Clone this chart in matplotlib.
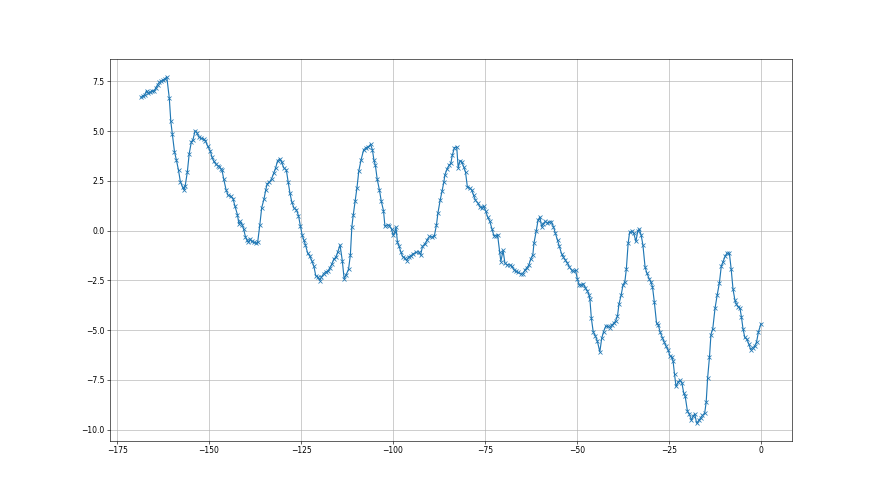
import numpy as np
import matplotlib
matplotlib.use('Agg')
import matplotlib.pyplot as plt

# values
x_days = [
    -168.5, -168.0, -167.5, -167.0, -166.5, -166.0, -165.5, -165.0, -164.5, -164.0,
    -163.5, -163.0, -162.5, -162.0, -161.5,
    -160.8, -160.4, -160.0, -159.4, -158.9, -158.3, -157.8, -157.2, -156.8, -156.5,
    -155.9, -155.4, -154.8, -154.4, -153.8, -153.3, -152.8, -152.2, -151.5, -151.0,
    -150.4, -149.7, -149.2, -148.7,
    -148.1, -147.6, -147.2, -146.8, -146.5, -146.0, -145.4, -144.8, -144.1, -143.5,
    -143.0, -142.3, -141.9, -141.5, -141.0, -140.6, -140.1, -139.7, -139.3, -138.8,
    -138.4, -137.9, -137.3, -136.8, -136.2, -135.7, -135.1, -134.6, -134.2, -133.6,
    -133.0, -132.4, -131.9, -131.4, -130.8, -130.3, -129.7, -129.0,
    -128.5, -128.0, -127.5, -126.9, -126.3, -125.7, -125.2, -124.7, -124.3, -123.8,
    -123.2, -122.7, -122.1, -121.5, -121.0, -120.4, -119.9, -119.5, -118.9, -118.3,
    -117.7, -117.2, -116.6, -116.1, -115.5, -115.0, -114.4, -113.8, -113.3, -112.8,
    -112.1, -111.6, -111.2, -110.8, -110.3, -109.8, -109.3, -108.7, -108.0,
    -107.3, -106.7, -106.1, -105.6, -105.2, -104.8, -104.3, -103.7, -103.2, -102.6,
    -102.2, -101.5, -101.0, -100.4, -100.0, -99.5, -99.2, -98.8, -98.4, -97.9,
    -97.4, -96.8, -96.3, -95.8, -95.2, -94.5, -93.8, -93.0, -92.5, -92.0,
    -91.3, -90.7, -90.1, -89.5, -88.8,
    -88.2, -87.8, -87.2, -86.7, -86.2, -85.9, -85.3, -84.8, -84.3, -83.9,
    -83.3, -82.7, -82.3, -81.8, -81.3, -80.8, -80.3, -79.8, -79.2, -78.6,
    -78.1, -77.6, -77.0, -76.4, -75.9, -75.4, -74.8, -74.3, -73.7, -73.1,
    -72.6, -72.1, -71.6, -71.0, -70.7, -70.1, -69.6, -69.0, -68.3, -67.7,
    -67.1, -66.6, -66.0, -65.3, -64.8, -64.2, -63.7, -63.1, -62.6, -62.0,
    -61.7, -61.1, -60.6, -60.1, -59.6, -59.2, -58.6, -58.1, -57.5, -57.0,
    -56.4, -55.9, -55.3, -54.8, -54.2, -53.7, -53.2, -52.6, -52.1, -51.5,
    -51.0, -50.4, -49.9, -49.4, -48.8, -48.3, -47.7, -47.2, -46.7, -46.5,
    -46.1, -45.6, -45.0, -44.5, -43.8, -43.3, -42.8, -42.2, -41.7, -41.1,
    -40.6, -40.0, -39.5, -39.0, -38.6, -38.0, -37.5, -37.0, -36.6, -36.1,
    -35.7, -35.1, -34.6, -34.0, -33.5, -33.1, -32.6, -32.1, -31.5, -31.0,
    -30.4, -30.0, -29.5, -29.0, -28.4, -27.9, -27.4, -26.8, -26.3, -25.8,
    -25.3, -24.7, -24.2, -23.9, -23.5, -23.1, -22.5, -22.0, -21.5, -21.0,
    -20.6, -20.0, -19.5, -18.9, -18.5, -18.0, -17.5, -16.9, -16.4, -15.9,
    -15.3, -14.9, -14.5, -14.0, -13.6, -13.1, -12.5, -11.9, -11.3, -10.8,
    -10.3, -9.7, -9.2, -8.6, -8.1, -7.6, -7.1, -6.7, -6.2, -5.7,
    -5.3, -4.9, -4.4, -3.8, -3.3, -2.8, -2.3, -1.7, -1.2, -0.7,
    0.0,
]

y_vals = [
    6.70, 6.78, 6.83, 7.04, 6.90, 6.95, 7.04, 7.00, 7.17, 7.34,
    7.46, 7.51, 7.58, 7.63, 7.74,
    6.65, 5.49, 4.88, 3.97, 3.57, 3.03, 2.46, 2.19, 2.05, 2.24,
    2.96, 3.87, 4.48, 4.55, 5.02, 4.93, 4.71, 4.65, 4.61, 4.51,
    4.26, 4.02, 3.70, 3.48,
    3.33, 3.27, 3.21, 3.12, 3.05, 2.58, 2.07, 1.77, 1.73, 1.61,
    1.26, 0.81, 0.35, 0.47, 0.30, 0.08, -0.32, -0.45, -0.59, -0.42,
    -0.54, -0.59, -0.62, -0.59, 0.30, 1.15, 1.57, 2.04, 2.36, 2.44,
    2.61, 2.91, 3.16, 3.50, 3.62, 3.45, 3.16, 3.05,
    2.44, 1.87, 1.43, 1.13, 1.06, 0.76, 0.25, -0.22, -0.45, -0.72,
    -1.13, -1.26, -1.50, -1.80, -2.27, -2.34, -2.51, -2.34, -2.17, -2.07,
    -2.04, -1.87, -1.67, -1.43, -1.33, -1.06, -0.72, -1.50, -2.41, -2.24,
    -1.94, -1.23, 0.18, 0.81, 1.50, 2.17, 3.01, 3.55, 4.06,
    4.18, 4.22, 4.34, 4.06, 3.55, 3.28, 2.58, 2.04, 1.48, 1.01,
    0.22, 0.30, 0.25, 0.08, -0.22, -0.08, 0.18, -0.59, -0.76, -1.06,
    -1.30, -1.38, -1.50, -1.33, -1.26, -1.16, -1.09, -1.06, -1.23, -0.79,
    -0.66, -0.45, -0.29, -0.32, -0.28,
    0.29, 0.89, 1.53, 1.97, 2.44, 2.81, 3.11, 3.28, 3.38, 3.79,
    4.18, 4.22, 3.16, 3.52, 3.45, 3.21, 2.94, 2.20, 2.15, 2.04,
    1.77, 1.53, 1.40, 1.20, 1.15, 1.23, 0.98, 0.69, 0.47, 0.08,
    -0.25, -0.25, -0.20, -1.09, -1.55, -0.99, -1.63, -1.72, -1.72, -1.80,
    -1.97, -2.05, -2.10, -2.17, -2.17, -2.00, -1.88, -1.73, -1.43, -1.20,
    -0.62, -0.03, 0.52, 0.69, 0.19, 0.35, 0.47, 0.39, 0.42, 0.45,
    0.19, -0.12, -0.49, -0.79, -1.16, -1.33, -1.47, -1.63, -1.83, -1.97,
    -2.05, -2.00, -2.44, -2.73, -2.73, -2.68, -2.88, -3.02, -3.25, -3.45,
    -4.41, -5.08, -5.30, -5.54, -6.09, -5.42, -5.08, -4.80, -4.80, -4.87,
    -4.75, -4.66, -4.53, -4.29, -3.69, -3.23, -2.73, -2.56, -1.94, -0.62,
    -0.08, -0.03, -0.12, -0.54, -0.03, 0.08, -0.20, -0.71, -1.84, -2.14,
    -2.41, -2.56, -2.81, -3.57, -4.63, -4.75, -5.11, -5.38, -5.60, -5.81,
    -5.98, -6.31, -6.35, -6.55, -7.22, -7.83, -7.61, -7.52, -7.66, -8.16,
    -8.33, -9.07, -9.21, -9.54, -9.34, -9.21, -9.68, -9.54, -9.41, -9.29,
    -9.17, -8.62, -7.39, -6.35, -5.22, -4.92, -3.91, -3.23, -2.61, -1.80,
    -1.55, -1.26, -1.13, -1.13, -1.94, -2.95, -3.48, -3.69, -3.82, -3.91,
    -4.36, -4.92, -5.37, -5.47, -5.71, -5.98, -5.88, -5.81, -5.59, -5.09,
    -4.68,
]

fig, ax = plt.subplots(figsize=(16, 9), dpi=55)
ax.plot(x_days, y_vals, marker='x')
ax.grid(True)

plt.savefig('out.png', dpi=55)
